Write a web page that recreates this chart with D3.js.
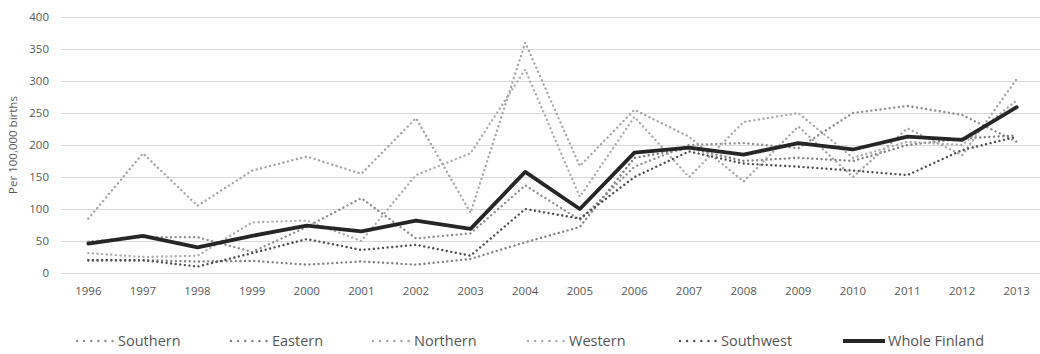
<!DOCTYPE html>
<html>
<head>
<meta charset="utf-8">
<script src="https://cdn.jsdelivr.net/npm/d3@7"></script>
<style>
  html, body { margin: 0; padding: 0; background: #fff; }
  svg { display: block; font-family: "Open Sans", "DejaVu Sans", sans-serif; }
</style>
</head>
<body>
<svg id="chart" width="1040" height="354"></svg>
<script>
// Years on the category axis
const years = ["1996","1997","1998","1999","2000","2001","2002","2003","2004",
               "2005","2006","2007","2008","2009","2010","2011","2012","2013"];

// Rates per 100,000 births, by region
const southern  = [49, 56, 56, 33, 72, 117, 54, 62, 137, 83, 166, 200, 203, 195, 250, 261, 247, 205];
const eastern   = [20, 20, 18, 19, 13, 18, 13, 22, 48, 72, 180, 195, 175, 180, 175, 200, 210, 215];
const northern  = [85, 187, 105, 160, 182, 155, 242, 94, 360, 167, 255, 213, 143, 229, 150, 226, 184, 303];
const western   = [31, 25, 27, 79, 82, 50, 153, 187, 318, 119, 244, 150, 236, 250, 180, 205, 200, 270];
const southwest = [20, 20, 10, 31, 53, 36, 44, 27, 100, 85, 150, 190, 171, 166, 160, 153, 192, 213];
const wholeFinland = [46, 58, 40, 58, 74, 65, 82, 69, 158, 100, 188, 196, 185, 203, 193, 213, 208, 259];

const yTicks = [0, 50, 100, 150, 200, 250, 300, 350, 400];
const yTitle = "Per 100,000 births";

const seriesNames = ["Southern", "Eastern", "Northern", "Western", "Southwest", "Whole Finland"];
const seriesValues = [southern, eastern, northern, western, southwest, wholeFinland];
const seriesColors = ["#8e8e8e", "#808080", "#a4a4a4", "#ababab", "#4f4f4f", "#262626"];

const svg = d3.select("#chart");
const margin = { left: 61, right: -4, top: 17, bottom: 81 };
const W = 1040, H = 354;

const x = d3.scaleBand().domain(years)
  .range([margin.left, W - margin.right]).paddingInner(0).paddingOuter(0);
const y = d3.scaleLinear().domain([0, 400])
  .range([H - margin.bottom, margin.top]);

// Horizontal gridlines
svg.append("g")
  .selectAll("line")
  .data(yTicks)
  .join("line")
  .attr("x1", margin.left)
  .attr("x2", W - margin.right)
  .attr("y1", d => Math.round(y(d)) + 0.5)
  .attr("y2", d => Math.round(y(d)) + 0.5)
  .attr("stroke", "#d9d9d9")
  .attr("stroke-width", 1);

// Y axis tick labels
const yAxis = d3.axisLeft(y).tickValues(yTicks).tickSize(0).tickPadding(0);
svg.append("g")
  .attr("transform", `translate(${margin.left - 12},0)`)
  .call(yAxis)
  .call(g => g.select(".domain").remove())
  .call(g => g.selectAll("text")
    .attr("fill", "#595959")
    .attr("font-size", "11.5px")
    .attr("font-family", "'Open Sans', sans-serif"));

// X axis tick labels
const xAxis = d3.axisBottom(x).tickSize(0).tickPadding(0);
svg.append("g")
  .attr("transform", `translate(0,${y(0) + 14})`)
  .call(xAxis)
  .call(g => g.select(".domain").remove())
  .call(g => g.selectAll("text")
    .attr("fill", "#595959")
    .attr("font-size", "11.5px")
    .attr("font-family", "'Open Sans', sans-serif"));

// Y axis title
svg.append("text")
  .attr("transform", `translate(17,${(y(0) + y(400)) / 2}) rotate(-90)`)
  .attr("text-anchor", "middle")
  .attr("fill", "#595959")
  .attr("font-size", "11.5px")
  .text(yTitle);

const line = d3.line()
  .x((d, i) => x(years[i]) + x.bandwidth() / 2)
  .y(d => y(d));

// Regional dotted series, national solid line drawn last
seriesValues.forEach((vals, k) => {
  const solid = k === seriesValues.length - 1;
  const path = svg.append("path")
    .datum(vals)
    .attr("d", line)
    .attr("fill", "none")
    .attr("stroke", seriesColors[k])
    .attr("stroke-linejoin", "round");
  if (solid) {
    path.attr("stroke-width", 3.8).attr("stroke-linecap", "round");
  } else {
    path.attr("stroke-width", 2.4)
      .attr("stroke-linecap", "round")
      .attr("stroke-dasharray", "0.01 4.6");
  }
});

// Legend
const legendX = [77, 231, 373, 528, 680, 843];
const legendY = 341;
const legend = svg.append("g");
seriesNames.forEach((name, k) => {
  const solid = k === seriesNames.length - 1;
  const x0 = legendX[k];
  const len = solid ? 42 : 36;
  const l = legend.append("line")
    .attr("x1", x0).attr("x2", x0 + len)
    .attr("y1", legendY).attr("y2", legendY)
    .attr("stroke", seriesColors[k]);
  if (solid) {
    l.attr("stroke-width", 3.8);
  } else {
    l.attr("stroke-width", 2.4).attr("stroke-linecap", "round")
      .attr("stroke-dasharray", "0.01 7.1");
  }
  legend.append("text")
    .attr("x", x0 + len + (solid ? 3 : 5))
    .attr("y", legendY)
    .attr("dy", "0.35em")
    .attr("fill", "#555555")
    .attr("font-size", "14.5px")
    .text(name);
});
</script>
</body>
</html>
